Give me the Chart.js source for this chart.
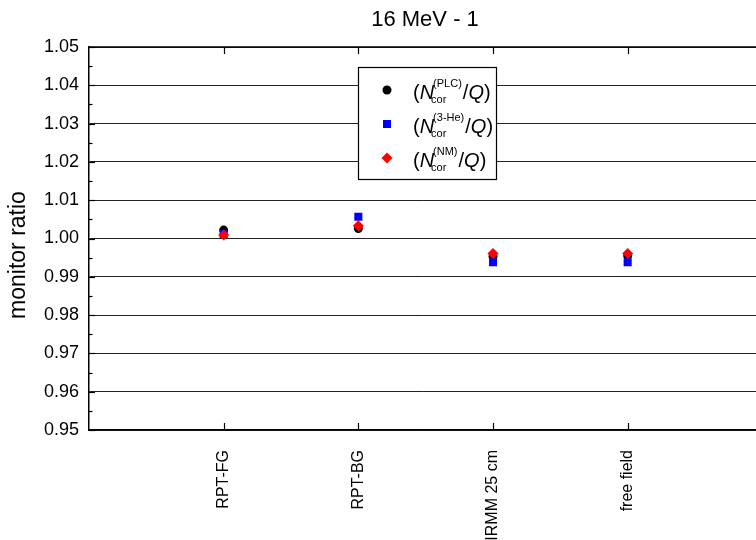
<!DOCTYPE html>
<html>
<head>
<meta charset="utf-8">
<script src="https://cdn.jsdelivr.net/npm/chart.js@4/dist/chart.umd.min.js"></script>
<style>
html,body{margin:0;padding:0;background:#fff;overflow:hidden;}
#wrap{width:756px;height:540px;position:relative;overflow:hidden;}
#c{position:absolute;left:0;top:0;}
</style>
</head>
<body>
<div id="wrap"><canvas id="c" width="764" height="540"></canvas></div>
<script>
const categories = ['RPT-FG', 'RPT-BG', 'IRMM 25 cm', 'free field'];
const plcValues  = [1.0022, 1.0026, 0.9953, 0.9955];
const heValues   = [1.0012, 1.0057, 0.9938, 0.9938];
const nmValues   = [1.0009, 1.0033, 0.9961, 0.9961];
const yTicks     = [0.95, 0.96, 0.97, 0.98, 0.99, 1.00, 1.01, 1.02, 1.03, 1.04, 1.05];
const chartTitle = '16 MeV - 1';
const yTitle     = 'monitor ratio';
const legendSups = ['(PLC)', '(3-He)', '(NM)'];

const FONT = "'Liberation Sans', Arial, sans-serif";
const pts = vals => vals.map((v, i) => ({x: i + 1, y: v}));

const decor = {
  id: 'decor',
  afterDraw(chart) {
    const ctx = chart.ctx;
    const xs = chart.scales.x, ys = chart.scales.y;
    const a = chart.chartArea;
    ctx.save();
    // title
    ctx.fillStyle = '#000';
    ctx.font = '22px ' + FONT;
    ctx.textAlign = 'center';
    ctx.textBaseline = 'middle';
    ctx.fillText(chartTitle, 425, 20);
    // y title
    ctx.save();
    ctx.translate(19, 255);
    ctx.rotate(-Math.PI / 2);
    ctx.font = '23px ' + FONT;
    ctx.fillText(yTitle, 0, 0);
    ctx.restore();
    // top border
    ctx.strokeStyle = '#000';
    ctx.lineWidth = 1.5;
    ctx.beginPath(); ctx.moveTo(a.left, a.top); ctx.lineTo(a.right, a.top); ctx.stroke();
    // y ticks inward (major + minor)
    ctx.lineWidth = 1.2;
    for (let k = 0; k <= 20; k++) {
      const v = 0.95 + k * 0.005;
      const py = Math.round(ys.getPixelForValue(v)) + 0.5;
      const len = (k % 2 === 0) ? 6 : 3.5;
      ctx.beginPath(); ctx.moveTo(a.left, py); ctx.lineTo(a.left + len, py); ctx.stroke();
    }
    // x ticks inward, top and bottom
    for (let i = 1; i <= categories.length; i++) {
      const px = Math.round(xs.getPixelForValue(i)) + 0.5;
      ctx.beginPath(); ctx.moveTo(px, a.bottom); ctx.lineTo(px, a.bottom - 7); ctx.stroke();
      ctx.beginPath(); ctx.moveTo(px, a.top); ctx.lineTo(px, a.top + 7); ctx.stroke();
    }
    // legend box
    const bx = 358, by = 67, bw = 138, bh = 112;
    ctx.fillStyle = '#fff';
    ctx.fillRect(bx, by, bw, bh);
    ctx.lineWidth = 1.2;
    ctx.strokeStyle = '#000';
    ctx.strokeRect(bx + 0.5, by + 0.5, bw, bh);
    const rows = [90, 124, 158];
    const mx = 387;
    // markers
    ctx.fillStyle = '#000';
    ctx.beginPath(); ctx.arc(mx, rows[0], 4.5, 0, Math.PI * 2); ctx.fill();
    ctx.fillStyle = '#0000ff';
    ctx.fillRect(mx - 4, rows[1] - 4, 8, 8);
    ctx.fillStyle = '#ff0000';
    ctx.beginPath();
    ctx.moveTo(mx, rows[2] - 5.5); ctx.lineTo(mx + 5.5, rows[2]); ctx.lineTo(mx, rows[2] + 5.5); ctx.lineTo(mx - 5.5, rows[2]);
    ctx.closePath(); ctx.fill();
    // legend text
    ctx.fillStyle = '#000';
    ctx.textAlign = 'left';
    ctx.textBaseline = 'alphabetic';
    rows.forEach((ry, i) => {
      let x = 413;
      const base = ry + 9;
      ctx.font = '20px ' + FONT;
      ctx.fillText('(', x, base); x += ctx.measureText('(').width;
      ctx.font = 'italic 20px ' + FONT;
      ctx.fillText('N', x, base); x += ctx.measureText('N').width;
      ctx.font = '11px ' + FONT;
      const sw = ctx.measureText(legendSups[i]).width;
      ctx.fillText(legendSups[i], x - 1, base - 12);
      const cw = ctx.measureText('cor').width;
      ctx.fillText('cor', x - 3, base + 4);
      x += Math.max(sw - 1, cw - 3) + 1;
      ctx.font = '20px ' + FONT;
      ctx.fillText('/', x, base); x += ctx.measureText('/').width;
      ctx.font = 'italic 20px ' + FONT;
      ctx.fillText('Q', x, base); x += ctx.measureText('Q').width;
      ctx.font = '20px ' + FONT;
      ctx.fillText(')', x, base);
    });
    ctx.restore();
  }
};

new Chart(document.getElementById('c'), {
  type: 'scatter',
  data: {
    datasets: [
      {label: 'NM', data: pts(nmValues), backgroundColor: '#ff0000', borderColor: '#ff0000', pointStyle: 'rectRot', pointRadius: 5.5, borderWidth: 0},
      {label: '3-He', data: pts(heValues), backgroundColor: '#0000ff', borderColor: '#0000ff', pointStyle: 'rect', pointRadius: 5.7, borderWidth: 0},
      {label: 'PLC', data: pts(plcValues), backgroundColor: '#000000', borderColor: '#000000', pointStyle: 'circle', pointRadius: 4.5, borderWidth: 0}
    ]
  },
  options: {
    responsive: false,
    animation: false,
    events: [],
    layout: {padding: {top: 47, left: 0, right: 0, bottom: 0}},
    plugins: {legend: {display: false}, title: {display: false}, tooltip: {enabled: false}},
    scales: {
      x: {
        type: 'linear',
        min: 0,
        max: 4.97,
        afterFit: s => { s.height = 110; s.paddingRight = 0; s.paddingLeft = 0; },
        afterBuildTicks: s => { s.ticks = categories.map((c, i) => ({value: i + 1})); },
        ticks: {
          autoSkip: false,
          minRotation: 90,
          maxRotation: 90,
          padding: 20,
          color: '#000',
          font: {family: FONT, size: 16},
          callback: v => categories[v - 1] || ''
        },
        grid: {display: false, drawTicks: false},
        border: {display: true, color: '#000', width: 1.5}
      },
      y: {
        type: 'linear',
        min: 0.95,
        max: 1.05,
        afterFit: s => { s.width = 89; s.paddingTop = 0; s.paddingBottom = 0; },
        afterBuildTicks: s => { s.ticks = yTicks.map(v => ({value: v})); },
        ticks: {
          padding: 10,
          color: '#000',
          font: {family: FONT, size: 18},
          callback: v => v.toFixed(2)
        },
        title: {display: false},
        grid: {color: '#222', lineWidth: 1, drawTicks: false},
        border: {display: true, color: '#000', width: 1.5}
      }
    }
  },
  plugins: [decor]
});
</script>
</body>
</html>
